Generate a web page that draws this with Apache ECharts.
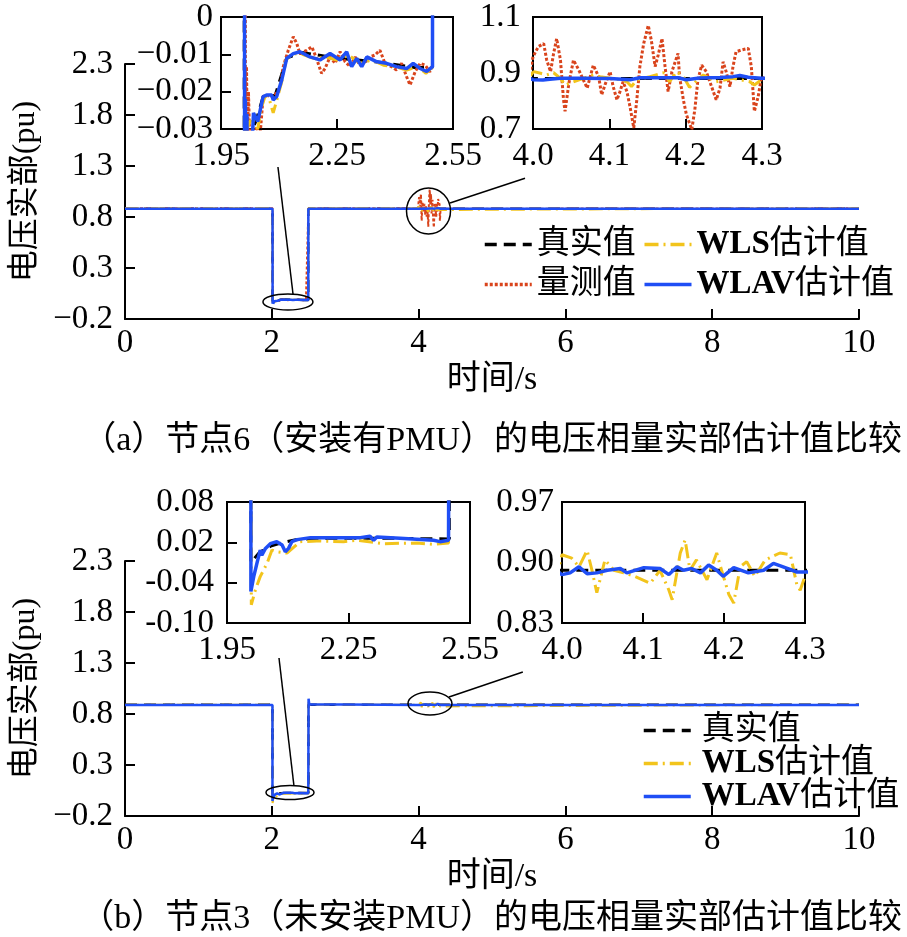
<!DOCTYPE html>
<html>
<head>
<meta charset="utf-8">
<script src="https://cdn.jsdelivr.net/npm/echarts@6/dist/echarts.min.js"></script>
<style>
html, body { margin: 0; padding: 0; background: #fff; }
#chart { width: 907px; height: 937px; }
</style>
</head>
<body>
<div id="chart"></div>
<script>
// ---------- data (time s, voltage real part pu) ----------
// (a) node 6, with PMU
const levelA_true = 0.880;
const levelA_meas = 0.885;
const levelA_wls = 0.885;
const levelA_wlav = 0.881;

const trueA_sag = [[2.010,0.880],[2.010,-0.035],[2.040,-0.028],[2.060,-0.021],[2.090,-0.021],[2.120,-0.011],[2.160,-0.0095],
  [2.250,-0.011],[2.350,-0.012],[2.450,-0.0135],[2.497,-0.0135],[2.497,0.880]];

const wlavA_sag = [[2.010,0.881],[2.011,-0.05],[2.013,-0.022],[2.015,-0.048],[2.017,-0.026],[2.019,-0.05],[2.022,-0.032],
  [2.026,-0.045],[2.034,-0.0257],[2.045,-0.028],[2.059,-0.0213],[2.068,-0.0209],[2.081,-0.0209],[2.085,-0.0222],
  [2.094,-0.0213],[2.107,-0.0169],[2.120,-0.0111],[2.137,-0.0098],[2.154,-0.0093],[2.180,-0.0107],[2.206,-0.0115],
  [2.232,-0.0098],[2.258,-0.0115],[2.275,-0.0093],[2.288,-0.0133],[2.301,-0.0111],[2.314,-0.0133],[2.327,-0.0107],
  [2.353,-0.0120],[2.378,-0.0124],[2.404,-0.0133],[2.430,-0.0138],[2.447,-0.0124],[2.465,-0.0138],[2.482,-0.0146],
  [2.497,-0.0133],[2.498,0.881]];

const measA_sag = [[2.012,0.885],[2.013,-0.035],[2.016,-0.0133],[2.018,-0.034],[2.021,-0.020],[2.025,-0.036],[2.042,-0.0293],
  [2.050,-0.033],[2.059,-0.0213],[2.068,-0.021],[2.085,-0.0215],[2.103,-0.019],[2.111,-0.0133],[2.124,-0.0089],
  [2.137,-0.0053],[2.146,-0.0071],[2.154,-0.0098],[2.172,-0.0089],[2.185,-0.0080],[2.197,-0.0111],[2.210,-0.0151],
  [2.219,-0.0138],[2.232,-0.0107],[2.245,-0.0124],[2.258,-0.0093],[2.271,-0.0120],[2.284,-0.0133],[2.297,-0.0107],
  [2.309,-0.0129],[2.322,-0.0120],[2.335,-0.0107],[2.348,-0.0102],[2.361,-0.0089],[2.374,-0.0124],[2.391,-0.0133],
  [2.404,-0.0142],[2.417,-0.0124],[2.430,-0.0160],[2.439,-0.0182],[2.452,-0.0147],[2.465,-0.0124],[2.478,-0.0129],
  [2.490,-0.0147],[2.497,-0.013],[2.498,0.885]];

const wlsA_sag = [[2.010,0.885],[2.011,-0.040],[2.016,-0.030],[2.030,-0.027],[2.045,-0.030],[2.055,-0.024],[2.065,-0.021],
  [2.075,-0.022],[2.085,-0.0257],[2.095,-0.022],[2.108,-0.017],[2.118,-0.0115],[2.135,-0.0098],[2.160,-0.0100],
  [2.190,-0.0111],[2.220,-0.0107],[2.250,-0.0115],[2.280,-0.0102],[2.310,-0.0124],[2.340,-0.0115],[2.370,-0.0129],
  [2.400,-0.0133],[2.430,-0.0142],[2.460,-0.0133],[2.480,-0.0151],[2.497,-0.0133],[2.498,0.885]];

const measA_osc = [[3.995,0.885],[4.000,0.958],[4.007,0.994],[4.014,1.005],[4.018,0.946],[4.023,0.905],[4.027,0.970],
  [4.031,1.023],[4.036,0.946],[4.040,0.804],[4.042,0.763],[4.047,0.863],[4.053,0.946],[4.060,0.911],[4.066,0.875],
  [4.071,0.846],[4.075,0.887],[4.079,0.928],[4.086,0.887],[4.090,0.822],[4.095,0.863],[4.101,0.905],[4.105,0.852],
  [4.110,0.804],[4.114,0.834],[4.118,0.869],[4.123,0.834],[4.127,0.781],[4.132,0.704],[4.136,0.804],[4.140,0.923],
  [4.145,1.005],[4.151,1.070],[4.155,1.017],[4.160,0.923],[4.164,0.964],[4.169,1.023],[4.173,0.923],[4.177,0.834],
  [4.182,0.905],[4.190,0.970],[4.192,0.887],[4.197,0.804],[4.201,0.751],[4.208,0.698],[4.212,0.769],[4.216,0.875],
  [4.221,0.928],[4.227,0.905],[4.234,0.851],[4.240,0.804],[4.245,0.846],[4.249,0.940],[4.253,0.905],[4.258,0.851],
  [4.262,0.923],[4.266,0.976],[4.273,0.982],[4.282,0.988],[4.286,0.923],[4.290,0.763],[4.295,0.816],[4.299,0.881],
  [4.305,0.885]];

const wlsA_osc = [[3.995,0.885],[4.001,0.905],[4.010,0.899],[4.018,0.893],[4.027,0.901],[4.036,0.881],[4.042,0.857],
  [4.066,0.881],[4.079,0.893],[4.088,0.887],[4.110,0.878],[4.123,0.869],[4.129,0.852],[4.136,0.875],[4.153,0.887],
  [4.171,0.901],[4.179,0.869],[4.188,0.905],[4.197,0.887],[4.205,0.849],[4.223,0.893],[4.240,0.869],[4.262,0.881],
  [4.284,0.869],[4.290,0.857],[4.299,0.875],[4.305,0.885]];

const wlavA_osc = [[3.995,0.881],[4.000,0.876],[4.013,0.875],[4.022,0.878],[4.036,0.881],[4.066,0.881],[4.101,0.880],
  [4.127,0.876],[4.140,0.883],[4.190,0.883],[4.201,0.876],[4.218,0.882],[4.245,0.884],[4.262,0.887],[4.271,0.891],
  [4.282,0.885],[4.299,0.881],[4.305,0.881]];

// (b) node 3, without PMU
const levelB_true = 0.891;
const levelB_wls = 0.890;
const levelB_wlav = 0.889;

const trueB_sag = [[2.009,0.891],[2.009,-0.010],[2.030,0.005],[2.060,0.015],[2.090,0.020],[2.120,0.024],[2.200,0.026],
  [2.350,0.026],[2.499,0.025],[2.499,0.891]];

const wlavB_sag = [[2.009,0.889],[2.009,-0.053],[2.016,-0.031],[2.024,-0.011],[2.032,0.0085],[2.036,0.001],[2.045,0.011],
  [2.057,0.018],[2.073,0.021],[2.086,0.016],[2.094,0.006],[2.102,0.011],[2.110,0.021],[2.123,0.024],[2.156,0.027],
  [2.213,0.027],[2.279,0.027],[2.303,0.029],[2.312,0.023],[2.320,0.028],[2.377,0.026],[2.460,0.023],[2.476,0.021],
  [2.497,0.023],[2.501,0.950],[2.510,0.895],[2.530,0.889]];

const wlsB_sag = [[2.010,0.890],[2.010,-0.073],[2.020,-0.051],[2.032,-0.031],[2.049,-0.011],[2.061,0.0085],[2.073,0.006],
  [2.098,0.004],[2.131,0.021],[2.172,0.022],[2.238,0.021],[2.271,0.023],[2.336,0.018],[2.419,0.019],[2.460,0.017],
  [2.497,0.019],[2.500,0.930],[2.510,0.890]];

const wlsB_osc = [[3.995,0.890],[4.000,0.909],[4.012,0.905],[4.021,0.895],[4.031,0.914],[4.037,0.891],[4.043,0.865],
  [4.053,0.903],[4.064,0.891],[4.076,0.888],[4.090,0.884],[4.109,0.876],[4.121,0.891],[4.132,0.868],[4.136,0.857],
  [4.146,0.911],[4.152,0.926],[4.158,0.891],[4.166,0.903],[4.179,0.880],[4.191,0.911],[4.197,0.891],[4.206,0.863],
  [4.212,0.853],[4.220,0.895],[4.228,0.901],[4.238,0.884],[4.251,0.903],[4.269,0.911],[4.282,0.909],[4.290,0.874],
  [4.294,0.868],[4.300,0.884],[4.305,0.890]];

const wlavB_osc = [[3.995,0.889],[4.000,0.886],[4.010,0.888],[4.021,0.895],[4.031,0.887],[4.043,0.888],[4.056,0.891],
  [4.072,0.893],[4.080,0.888],[4.101,0.894],[4.121,0.893],[4.132,0.886],[4.142,0.895],[4.150,0.891],[4.160,0.893],
  [4.171,0.888],[4.181,0.897],[4.191,0.891],[4.199,0.884],[4.212,0.894],[4.230,0.888],[4.249,0.891],[4.261,0.899],
  [4.273,0.895],[4.290,0.889],[4.300,0.889],[4.305,0.889]];

// annotation anchors in main-axis data coordinates
const ringsA = [[2.22, -0.033], [4.135, 0.859]];
const ringsB = [[2.248, 0.03], [4.155, 0.903]];
const leadersA = [[[2.289, 0.045], [2.084, 1.29]], [[4.428, 0.937], [5.45, 1.18]]];
const leadersB = [[[2.302, 0.094], [2.098, 1.349]], [[4.414, 0.967], [5.42, 1.212]]];

// ---------- helpers ----------
const FONT = "'Liberation Serif', 'Times New Roman', 'Noto Sans CJK SC', serif";
const BLACK = '#000';
const COL_TRUE = '#000000', COL_MEAS = '#d9441c', COL_WLS = '#f2c41c', COL_WLAV = '#1f4ef5';

function full(level, sag, osc) {
  let d = [[0, level]].concat(sag);
  if (osc) d = d.concat(osc);
  return d.concat([[10, level]]);
}

const dataA = {
  t: full(levelA_true, trueA_sag),
  m: full(levelA_meas, measA_sag, measA_osc),
  s: full(levelA_wls, wlsA_sag, wlsA_osc),
  v: full(levelA_wlav, wlavA_sag, wlavA_osc)
};
const dataB = {
  t: full(levelB_true, trueB_sag),
  s: full(levelB_wls, wlsB_sag, wlsB_osc),
  v: full(levelB_wlav, wlavB_sag, wlavB_osc)
};

function lbl(margin, fmt) {
  return { fontSize: 33, color: BLACK, fontFamily: FONT, margin: margin, formatter: fmt };
}
function ax(grid, min, max, interval, fmt, margin, extra) {
  return Object.assign({
    gridIndex: grid, type: 'value', min: min, max: max, interval: interval,
    axisLine: { onZero: false, lineStyle: { color: BLACK, width: 2 } },
    axisTick: { inside: true, length: 10, lineStyle: { color: BLACK, width: 2 } },
    axisLabel: lbl(margin, fmt),
    splitLine: { show: false }
  }, extra || {});
}

const minus = v => v < -1e-9 ? '−' + Math.abs(v).toFixed(1) : v.toFixed(1);
const f1 = v => v.toFixed(1);
const f2 = v => v.toFixed(2);
const fA1 = v => Math.abs(v) < 1e-9 ? '0' : '−' + Math.abs(v).toFixed(2);

function sr(name, data, idx, main) {
  let ls;
  if (name === '真实值') ls = { color: COL_TRUE, width: main ? 2.5 : 3, type: [12, 7] };
  else if (name === '量测值') ls = { color: COL_MEAS, width: main ? 2 : 3, type: [3, 2] };
  else if (name === 'WLS估计值') ls = { color: COL_WLS, width: main ? 2 : 3, type: [14, 5, 2, 5] };
  else ls = { color: COL_WLAV, width: main ? 2.5 : 3.5, type: 'solid' };
  return {
    name: name, type: 'line', xAxisIndex: idx, yAxisIndex: idx, data: data,
    symbol: 'none', showSymbol: false, lineStyle: ls, clip: true, silent: true
  };
}

const series = [];
[0, 1, 2].forEach(i => {
  series.push(sr('真实值', dataA.t, i, i === 0));
  series.push(sr('量测值', dataA.m, i, i === 0));
  series.push(sr('WLS估计值', dataA.s, i, i === 0));
  series.push(sr('WLAV估计值', dataA.v, i, i === 0));
});
[3, 4, 5].forEach(i => {
  series.push(sr('真实值', dataB.t, i, i === 3));
  series.push(sr('WLS估计值', dataB.s, i, i === 3));
  series.push(sr('WLAV估计值', dataB.v, i, i === 3));
});

const inset = { show: true, borderColor: BLACK, borderWidth: 2, backgroundColor: 'transparent', outerBoundsMode: 'none' };
const yName = {
  name: '电压实部(pu)', nameLocation: 'middle', nameGap: 83, nameRotate: 90,
  nameTextStyle: { fontSize: 32, color: BLACK, fontFamily: FONT }
};
const xName = {
  name: '时间/s', nameLocation: 'middle', nameGap: 44,
  nameTextStyle: { fontSize: 34, color: BLACK, fontFamily: FONT }
};
const legendText = {
  fontSize: 33, color: BLACK, fontFamily: FONT,
  rich: { b: { fontSize: 33, fontWeight: 'bold', fontFamily: FONT, color: BLACK } }
};
const legendFmt = n => n.replace(/^([A-Z]+)/, '{b|$1}');

const option = {
  animation: false,
  backgroundColor: '#fff',
  grid: [
    { left: 125, top: 64, width: 734, height: 255, outerBoundsMode: 'none' },
    Object.assign({ left: 221, top: 17, width: 232, height: 112 }, inset),
    Object.assign({ left: 533, top: 17, width: 229, height: 112 }, inset),
    { left: 125, top: 561, width: 734, height: 255, outerBoundsMode: 'none' },
    Object.assign({ left: 227, top: 502, width: 243, height: 121 }, inset),
    Object.assign({ left: 562, top: 502, width: 243, height: 121 }, inset)
  ],
  xAxis: [
    ax(0, 0, 10, 2, null, 8, xName),
    ax(1, 1.95, 2.55, 0.3, f2, 11),
    ax(2, 4.0, 4.3, 0.1, f1, 11),
    ax(3, 0, 10, 2, null, 8, xName),
    ax(4, 1.95, 2.55, 0.3, f2, 11),
    ax(5, 4.0, 4.3, 0.1, f1, 11)
  ],
  yAxis: [
    ax(0, -0.2, 2.3, 0.5, minus, 12, yName),
    ax(1, -0.03, 0, 0.01, fA1, 8),
    ax(2, 0.7, 1.1, 0.2, f1, 12, { axisTick: { show: false } }),
    ax(3, -0.2, 2.3, 0.5, minus, 12, yName),
    ax(4, -0.10, 0.08, 0.06, f2, 13),
    ax(5, 0.83, 0.97, 0.07, f2, 8, { axisTick: { show: false } })
  ],
  legend: [
    {
      data: ['真实值', 'WLS估计值', '量测值', 'WLAV估计值'],
      left: 478, top: 223, width: 430, orient: 'horizontal',
      itemWidth: 47, itemHeight: 14, itemGap: 7,
      lineStyle: { width: 3.5 }, itemStyle: { opacity: 0 },
      textStyle: legendText, formatter: legendFmt, selectedMode: false
    },
    {
      data: ['真实值', 'WLS估计值', 'WLAV估计值'],
      left: 637, top: 709, orient: 'vertical',
      itemWidth: 47, itemHeight: 14, itemGap: 0,
      lineStyle: { width: 3.5 }, itemStyle: { opacity: 0 },
      textStyle: Object.assign({ padding: [0, 0, 0, 6] }, legendText), formatter: legendFmt, selectedMode: false
    }
  ],
  title: [
    { text: '（a）节点6（安装有PMU）的电压相量实部估计值比较', right: 0, top: 419,
      textStyle: { fontSize: 34, fontWeight: 'normal', color: BLACK, fontFamily: FONT } },
    { text: '（b）节点3（未安装PMU）的电压相量实部估计值比较', right: 0, top: 897,
      textStyle: { fontSize: 34, fontWeight: 'normal', color: BLACK, fontFamily: FONT } }
  ],
  series: series
};

const chart = echarts.init(document.getElementById('chart'), null, { renderer: 'canvas' });
chart.setOption(option);

// rings and leader lines placed from data coordinates of the main axes
function annotate() {
  const g = [];
  const ring = (grid, c, rx, ry) => {
    const p = chart.convertToPixel({ gridIndex: grid }, c);
    g.push({ type: 'ellipse', shape: { cx: p[0], cy: p[1], rx: rx, ry: ry },
      style: { fill: 'none', stroke: BLACK, lineWidth: 1.5 }, z: 50 });
  };
  const lead = (grid, seg) => {
    const a = chart.convertToPixel({ gridIndex: grid }, seg[0]);
    const b = chart.convertToPixel({ gridIndex: grid }, seg[1]);
    g.push({ type: 'line', shape: { x1: a[0], y1: a[1], x2: b[0], y2: b[1] },
      style: { stroke: BLACK, lineWidth: 1.5 }, z: 50 });
  };
  ring(0, ringsA[0], 25, 8);
  ring(0, ringsA[1], 22, 23);
  ring(3, ringsB[0], 24, 7);
  ring(3, ringsB[1], 22, 11.5);
  leadersA.forEach(s => lead(0, s));
  leadersB.forEach(s => lead(3, s));
  chart.setOption({ graphic: g });
}
annotate();
</script>
</body>
</html>
